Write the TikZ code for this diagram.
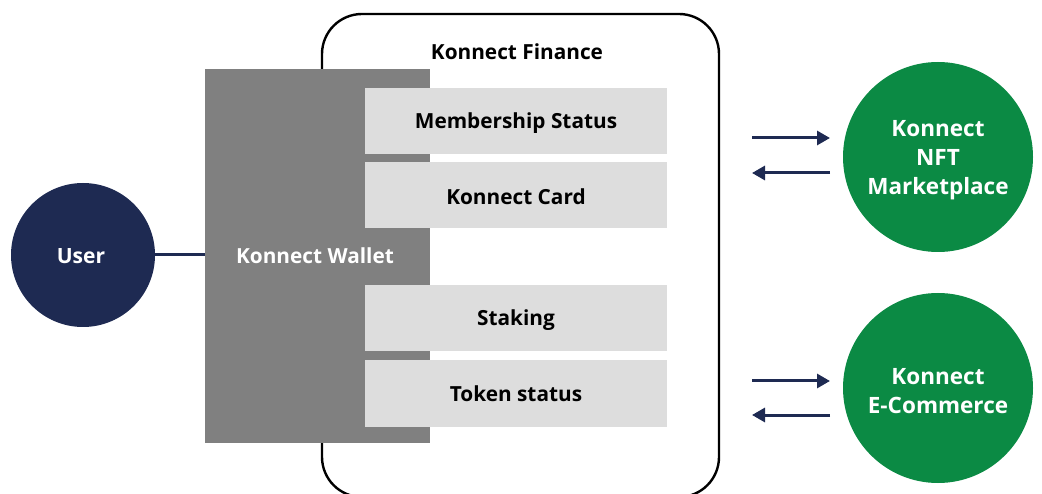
\documentclass[tikz,border=0pt]{standalone}
\usepackage{fontspec}
\setmainfont{Open Sans}
\usetikzlibrary{arrows.meta}
\definecolor{navy}{HTML}{1E2A52}
\definecolor{kgreen}{HTML}{0B8A44}
\definecolor{kgray}{HTML}{808080}
\definecolor{klight}{HTML}{DDDDDD}
\begin{document}
\begin{tikzpicture}[x=1pt,y=-1pt,
  lbl/.style={font=\bfseries\fontsize{20.8}{24}\selectfont},
  sub/.style={fill=klight,draw=none,minimum width=302pt,minimum height=66pt,inner sep=0pt},
  subl/.style={font=\bfseries\fontsize{20.8}{24}\selectfont},
  circ/.style={circle,draw=none,inner sep=0pt,text=white,align=center,font=\bfseries\fontsize{22.5}{29}\selectfont},
  flow/.style={navy,line width=3pt,-{Triangle[length=13pt,width=14pt]}}]
\useasboundingbox (0,0) rectangle (1042,494);
\clip (0,0) rectangle (1042,494);
\draw[line width=2.4pt,rounded corners=40pt] (322,14) rectangle (719,497);
\node[lbl] (fin) at (517,52) {Konnect Finance};
\node[fill=kgray,draw=none,minimum width=225pt,minimum height=374pt,inner sep=0pt] (wallet) at (317.5,256) {};
\node[lbl,text=white] (wlabel) at (315,256) {Konnect Wallet};
\node[sub] (m1) at (516,121.5) {};
\node[sub] (m2) at (516,195.5) {};
\node[sub] (m3) at (516,318.5) {};
\node[sub] (m4) at (516,393.5) {};
\node[subl] (m1l) at (m1) [yshift=-1.5pt] {Membership Status};
\node[subl] (m2l) at (m2) [yshift=-1pt] {Konnect Card};
\node[subl] (m3l) at (m3) [yshift=-2pt] {Staking};
\node[subl] (m4l) at (m4) [yshift=-0.5pt] {Token status};
\node[circ,fill=navy,minimum size=144pt] (user) at (83,255) {};
\node[circ,font=\bfseries\fontsize{21}{29}\selectfont] (userl) at (81,256) {User};
\draw[navy,line width=3pt] (user.east) -- (wallet.west |- user.east);
\node[circ,fill=kgreen,minimum size=190pt] (nft) at (938,157) {};
\node[circ] (nftl) at (938,160) {Konnect\\NFT\\Marketplace};
\node[circ,fill=kgreen,minimum size=190pt] (ecom) at (938,388) {};
\node[circ] (ecoml) at (938,391) {Konnect\\E-Commerce};
\coordinate (a1s) at (752,138); \coordinate (a1e) at (830,138);
\coordinate (a2s) at (830,173); \coordinate (a2e) at (752,173);
\coordinate (b1s) at (752,381); \coordinate (b1e) at (830,381);
\coordinate (b2s) at (830,415); \coordinate (b2e) at (752,415);
\draw[flow] (a1s) -- (a1e);
\draw[flow] (a2s) -- (a2e);
\draw[flow] (b1s) -- (b1e);
\draw[flow] (b2s) -- (b2e);
\end{tikzpicture}
\end{document}
